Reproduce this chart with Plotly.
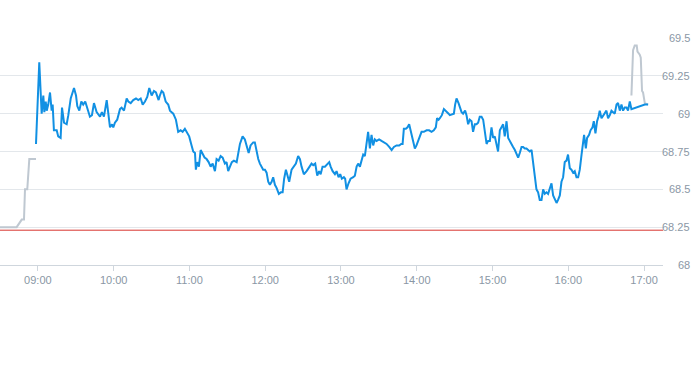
import pandas as pd
import plotly.graph_objects as go

# Session date (arbitrary) and previous close
day = pd.Timestamp("2024-05-06")
prev_close = 68.23

# Pre-market (minutes after midnight, price)
pre_min = [510, 523.2, 527.2, 529.0, 529.8, 531.6, 533.2, 538.5]
pre_px = [68.25, 68.25, 68.30, 68.30, 68.50, 68.50, 68.70, 68.70]

# Regular session
reg_min = [538.5, 541.1, 543.0, 544.3, 545.1, 546.2, 547.0, 548.2, 549.6, 550.9,
           551.7, 552.7, 554.9, 556.1, 558.0, 559.1, 560.7, 562.8, 564.1, 566.0,
           568.6, 570.2, 571.2, 572.8, 574.4, 575.9, 577.5, 579.1, 581.2, 582.8,
           584.4, 586.5, 588.1, 589.2, 590.7, 592.3, 594.5, 595.7, 597.1, 598.7,
           599.7, 601.0, 602.8, 605.0, 606.3, 608.2, 610.3, 611.6, 613.5, 615.5,
           617.7, 619.5, 621.4, 623.0, 624.8, 626.6, 628.2, 630.1, 631.9, 633.5,
           634.5, 635.6, 636.6, 638.0, 639.3, 641.2, 643.2, 644.6, 645.9, 647.2,
           649.3, 651.1, 653.0, 654.6, 656.4, 658.3, 659.8, 661.7, 663.0, 664.4,
           665.1, 666.2, 667.5, 668.9, 670.4, 672.0, 673.6, 675.2, 676.8, 678.4,
           680.2, 681.5, 683.1, 684.7, 686.3, 688.1, 689.4, 690.7, 692.1, 693.6,
           695.2, 697.4, 700.0, 702.1, 703.9, 705.8, 706.9, 708.4, 710.5, 711.8,
           713.2, 714.5, 715.8, 717.2, 718.4, 719.8, 721.1, 722.4, 723.7, 725.1,
           726.3, 727.7, 729.0, 730.8, 732.4, 733.8, 735.0, 736.4, 737.7, 739.0,
           740.9, 742.7, 744.3, 746.1, 747.5, 748.8, 750.6, 752.8, 754.8, 756.7,
           758.0, 759.6, 761.2, 762.7, 763.9, 765.4, 767.3, 769.1, 770.7, 771.8,
           773.4, 775.2, 776.5, 778.1, 779.4, 780.7, 782.3, 783.3, 784.4, 786.0,
           787.6, 789.7, 791.0, 792.4, 793.6, 795.0, 796.3, 797.6, 798.9, 800.3,
           801.5, 802.9, 804.2, 805.5, 806.8, 808.2, 810.2, 812.1, 814.0, 816.1,
           818.2, 820.1, 821.9, 824.0, 826.1, 827.7, 828.8, 829.8, 831.4, 832.7,
           834.0, 835.3, 837.2, 838.5, 839.8, 841.9, 843.8, 845.6, 847.8, 849.8,
           851.7, 853.5, 855.1, 856.1, 857.3, 858.3, 859.9, 861.5, 863.0, 864.1,
           865.2, 866.2, 868.3, 869.4, 870.4, 871.5, 873.1, 874.1, 875.5, 876.7,
           878.3, 879.4, 880.7, 882.0, 883.4, 884.6, 886.0, 887.3, 888.6, 889.9,
           891.3, 892.6, 893.9, 895.3, 896.5, 897.9, 899.2, 900.5, 901.8, 903.2,
           904.4, 905.8, 907.1, 908.4, 909.7, 911.1, 912.4, 913.7, 915.0, 916.3,
           917.7, 919.0, 920.3, 921.6, 923.0, 924.2, 925.6, 926.9, 928.2, 929.5,
           930.9, 932.1, 933.5, 934.8, 936.1, 937.4, 938.8, 940.1, 941.4, 942.7,
           944.0, 945.4, 946.7, 948.0, 949.3, 950.7, 951.9, 953.3, 954.6, 955.9,
           957.2, 958.6, 959.8, 961.2, 962.5, 963.8, 965.1, 966.5, 967.8, 969.1,
           970.5, 971.7, 972.5, 973.9, 974.9, 976.5, 977.6, 979.2, 980.2, 981.5,
           982.8, 983.9, 984.9, 986.3, 987.6, 988.9, 990.2, 991.5, 992.9, 994.2,
           995.5, 996.8, 998.2, 999.4, 1000.8, 1002.1, 1003.4, 1004.7, 1006.1, 1007.3,
           1008.7, 1010.0, 1020.6, 1023.2]
reg_px = [68.80, 69.34, 69.00, 69.12, 69.01, 69.08, 69.02, 69.06, 69.14, 69.02,
          69.06, 68.89, 68.89, 68.85, 68.84, 69.04, 68.94, 68.93, 68.99, 69.10,
          69.17, 69.12, 69.05, 69.02, 69.08, 69.06, 69.08, 69.04, 68.98, 68.99,
          69.07, 69.01, 68.99, 68.98, 69.01, 68.98, 69.09, 69.00, 68.91, 68.93,
          68.91, 68.94, 68.96, 69.03, 69.04, 69.02, 69.10, 69.08, 69.07, 69.09,
          69.10, 69.09, 69.10, 69.06, 69.08, 69.11, 69.17, 69.12, 69.15, 69.14,
          69.12, 69.09, 69.12, 69.15, 69.14, 69.08, 69.06, 69.02, 69.01, 69.00,
          68.96, 68.88, 68.89, 68.88, 68.90, 68.87, 68.85, 68.79, 68.75, 68.74,
          68.63, 68.68, 68.65, 68.76, 68.73, 68.71, 68.70, 68.68, 68.65, 68.67,
          68.62, 68.70, 68.69, 68.72, 68.71, 68.67, 68.68, 68.62, 68.65, 68.68,
          68.69, 68.68, 68.80, 68.85, 68.83, 68.78, 68.74, 68.79, 68.81, 68.81,
          68.74, 68.70, 68.67, 68.65, 68.63, 68.63, 68.61, 68.55, 68.53, 68.55,
          68.58, 68.53, 68.51, 68.47, 68.48, 68.48, 68.57, 68.63, 68.58, 68.55,
          68.63, 68.65, 68.67, 68.72, 68.70, 68.65, 68.60, 68.62, 68.65, 68.67,
          68.66, 68.67, 68.59, 68.62, 68.60, 68.65, 68.65, 68.67, 68.68, 68.65,
          68.62, 68.60, 68.62, 68.58, 68.60, 68.57, 68.58, 68.57, 68.50, 68.54,
          68.57, 68.58, 68.59, 68.65, 68.67, 68.65, 68.70, 68.73, 68.72, 68.80,
          68.88, 68.77, 68.86, 68.79, 68.83, 68.82, 68.83, 68.82, 68.81, 68.80,
          68.78, 68.76, 68.78, 68.79, 68.79, 68.80, 68.80, 68.90, 68.90, 68.91,
          68.93, 68.88, 68.80, 68.77, 68.79, 68.84, 68.88, 68.88, 68.89, 68.89,
          68.88, 68.89, 68.91, 68.97, 68.96, 68.97, 68.99, 69.03, 69.02, 69.01,
          69.00, 68.99, 69.00, 69.00, 69.06, 69.10, 69.07, 69.04, 69.01, 69.00,
          69.02, 68.99, 68.93, 68.96, 68.95, 68.88, 68.93, 68.93, 68.94, 68.98,
          68.98, 68.96, 68.89, 68.80, 68.82, 68.82, 68.91, 68.84, 68.85, 68.80,
          68.75, 68.89, 68.91, 68.93, 68.85, 68.95, 68.84, 68.82, 68.79, 68.78,
          68.76, 68.74, 68.71, 68.74, 68.78, 68.78, 68.77, 68.77, 68.76, 68.75,
          68.76, 68.67, 68.56, 68.50, 68.48, 68.43, 68.43, 68.50, 68.47, 68.48,
          68.47, 68.50, 68.54, 68.46, 68.44, 68.41, 68.43, 68.46, 68.55, 68.58,
          68.68, 68.69, 68.73, 68.64, 68.63, 68.61, 68.62, 68.58, 68.58, 68.63,
          68.73, 68.82, 68.86, 68.77, 68.84, 68.86, 68.89, 68.91, 68.95, 68.87,
          68.95, 68.98, 69.02, 68.97, 68.99, 69.01, 69.02, 68.97, 68.99, 69.02,
          69.01, 69.00, 69.06, 69.07, 69.02, 69.06, 69.02, 69.04, 69.04, 69.02,
          69.08, 69.03, 69.06, 69.06]

# After-hours
post_min = [1010.0, 1011.3, 1012.6, 1014.2, 1014.8, 1016.6, 1017.4, 1018.4, 1019.2, 1020.6, 1023.2]
post_px = [69.12, 69.42, 69.45, 69.45, 69.41, 69.39, 69.37, 69.15, 69.14, 69.07, 69.06]

# Axis ticks
y_ticks = [68, 68.25, 68.5, 68.75, 69, 69.25, 69.5]
y_labels = ["68", "68.25", "68.5", "68.75", "69", "69.25", "69.5"]
x_range = ["08:30", "17:15"]


def ts(mins):
    return [day + pd.Timedelta(minutes=m) for m in mins]


GREY = "#bfc8d1"
BLUE = "#1190e3"
LABEL = "#8a97a5"

fig = go.Figure()
fig.add_trace(go.Scatter(x=ts(pre_min), y=pre_px, mode="lines",
                         line=dict(color=GREY, width=2), hoverinfo="skip"))
fig.add_trace(go.Scatter(x=ts(post_min), y=post_px, mode="lines",
                         line=dict(color=GREY, width=2), hoverinfo="skip"))
fig.add_trace(go.Scatter(x=ts(reg_min), y=reg_px, mode="lines",
                         line=dict(color=BLUE, width=2)))

fig.add_hline(y=prev_close, line=dict(color="#d8352f", width=1))

# Right-aligned price labels at the right edge of the figure
for v, lab in zip(y_ticks, y_labels):
    fig.add_annotation(x=1.0, xref="paper", xanchor="right", y=v, yref="y",
                       yanchor="middle", text=lab, showarrow=False,
                       font=dict(size=11, color=LABEL), xshift=-1)

d0 = day.strftime("%Y-%m-%d")
fig.update_layout(
    width=693, height=365,
    margin=dict(l=0, r=0, t=38, b=100),
    paper_bgcolor="white", plot_bgcolor="white",
    showlegend=False,
    font=dict(family="Liberation Sans, Arial, sans-serif", size=11, color=LABEL),
    xaxis=dict(
        domain=[0, 663 / 693],
        type="date",
        range=[f"{d0} {x_range[0]}", f"{d0} {x_range[1]}"],
        tickformat="%H:%M",
        dtick=3600000,
        tick0=f"{d0} 09:00",
        showgrid=False,
        showline=True, linecolor="#cfd6dd", linewidth=1,
        ticks="outside", ticklen=5, tickcolor="#cfd6dd",
        tickfont=dict(size=11, color=LABEL),
        zeroline=False,
    ),
    yaxis=dict(
        range=[68, 69.5],
        tickvals=y_ticks,
        showticklabels=False,
        showgrid=True, gridcolor="#e3e7eb", gridwidth=1,
        showline=False, zeroline=False, ticks="",
    ),
)

fig.write_html("out.html", config={"displayModeBar": False},
               post_script="document.body.style.margin='0px';document.body.style.overflow='hidden';")
